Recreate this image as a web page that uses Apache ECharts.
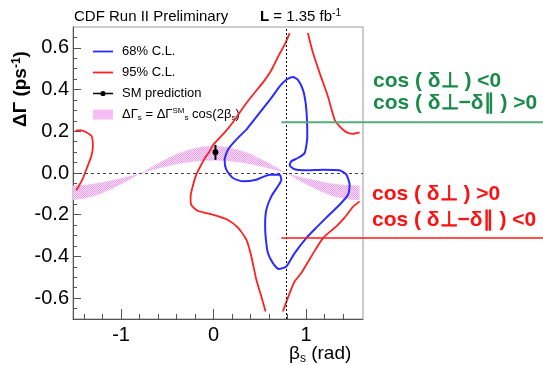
<!DOCTYPE html>
<html><head><meta charset="utf-8">
<script src="https://cdn.jsdelivr.net/npm/echarts@6/dist/echarts.min.js"></script>
<style>html,body{margin:0;padding:0;background:#fff}#c{width:543px;height:366px}</style>
</head><body><div id="c"></div>
<script>
const FONT = '"Liberation Sans", Arial, Helvetica, sans-serif';

// axis ranges and tick labels
const xRange = [-1.52, 1.615];
const yRange = [-0.7, 0.7];
const xMajorTicks = [-1, 0, 1];
const xMinorTicks = [-1.4, -1.2, -0.8, -0.6, -0.4, -0.2, 0.2, 0.4, 0.6, 0.8, 1.2, 1.4];
const yMajorTicks = [-0.6, -0.4, -0.2, 0, 0.2, 0.4, 0.6];
const yMinorTicks = [-0.65, -0.55, -0.5, -0.45, -0.35, -0.3, -0.25, -0.15, -0.1, -0.05,
                     0.05, 0.1, 0.15, 0.25, 0.3, 0.35, 0.45, 0.5, 0.55, 0.65];

// 68% C.L. contour (beta_s, DeltaGamma)
const blueContour = [
  [0.354,0.208],[0.497,0.288],[0.624,0.360],[0.714,0.415],[0.786,0.447],[0.857,0.460],
  [0.911,0.447],[0.965,0.400],[0.995,0.336],[1.009,0.256],[1.013,0.176],[0.984,0.096],
  [0.911,0.072],[0.840,0.056],[0.822,0.037],[0.876,0.018],[1.002,0.013],[1.182,0.016],
  [1.362,0.013],[1.435,-0.008],[1.470,-0.056],[1.452,-0.104],[1.362,-0.152],[1.218,-0.214],
  [1.110,-0.262],[1.002,-0.312],[0.876,-0.384],[0.786,-0.448],[0.706,-0.460],[0.641,-0.432],
  [0.587,-0.384],[0.562,-0.304],[0.557,-0.248],[0.570,-0.176],[0.624,-0.112],[0.695,-0.064],
  [0.732,-0.032],[0.714,-0.008],[0.605,-0.008],[0.462,-0.032],[0.317,-0.040],[0.209,-0.024],
  [0.137,0.016],[0.119,0.064],[0.155,0.112],[0.245,0.160],[0.354,0.208]
];

// 95% C.L. contour pieces
const redMain = [
  [0.822,0.671],[0.768,0.615],[0.703,0.563],[0.627,0.495],[0.541,0.438],[0.443,0.385],
  [0.357,0.337],[0.281,0.289],[0.205,0.241],[0.130,0.200],[0.046,0.160],[-0.011,0.131],
  [-0.043,0.104],[-0.092,0.073],[-0.133,0.040],[-0.187,-0.008],[-0.227,-0.066],[-0.249,-0.114],
  [-0.243,-0.152],[-0.173,-0.181],[-0.011,-0.200],[0.151,-0.224],[0.263,-0.262],[0.354,-0.320],
  [0.408,-0.400],[0.462,-0.512],[0.516,-0.592],[0.562,-0.664]
];
const redLowerRight = [
  [0.749,-0.664],[0.822,-0.576],[0.876,-0.520],[0.948,-0.480],[1.056,-0.400],[1.182,-0.312],
  [1.326,-0.256],[1.416,-0.214],[1.506,-0.162],[1.578,-0.136]
];
const redTopRight = [
  [1.019,0.671],[1.074,0.576],[1.146,0.480],[1.236,0.367],[1.308,0.256],[1.362,0.224],
  [1.435,0.196],[1.503,0.188],[1.578,0.195]
];
const redLeftArc = [
  [-1.492,0.204],[-1.430,0.204],[-1.322,0.179],[-1.305,0.128],[-1.322,0.080],
  [-1.370,0.024],[-1.419,-0.032],[-1.484,-0.083]
];

// SM prediction
const smBeta = [0.02];
const smDG = [0.099];
const smErr = [0.036];

// band DeltaGamma_s = DeltaGamma_s^SM cos(2 beta_s)
const bandBeta = [-1.52,-1.4,-1.3,-1.2,-1.1,-1.0,-0.9,-0.785,-0.7,-0.6,-0.5,-0.4,-0.3,-0.2,-0.1,0,
                  0.1,0.2,0.3,0.4,0.5,0.6,0.7,0.785,0.9,1.0,1.1,1.2,1.3,1.4,1.5,1.578];
const bandHi = [-0.129,-0.122,-0.111,-0.096,-0.077,-0.054,-0.030,0,0.022,0.047,0.070,0.091,0.107,0.120,0.127,0.130,
                0.127,0.120,0.107,0.091,0.070,0.047,0.022,0,-0.030,-0.054,-0.077,-0.096,-0.111,-0.122,-0.128,-0.130];
const bandLo = [-0.060,-0.057,-0.051,-0.044,-0.035,-0.025,-0.014,0,0.010,0.022,0.032,0.042,0.050,0.055,0.059,0.060,
                0.059,0.055,0.050,0.042,0.032,0.022,0.010,0,-0.014,-0.025,-0.035,-0.044,-0.051,-0.057,-0.059,-0.060];

// reference lines / annotations (data coordinates)
const refBeta = 0.785;
const annotStartBeta = 0.732;
const greenLineDG = 0.243;
const redLineDG = -0.312;

// hatch pattern for band
const pc = document.createElement('canvas');
pc.width = 2; pc.height = 2;
const pctx = pc.getContext('2d');
pctx.fillStyle = '#fbe2fb'; pctx.fillRect(0,0,2,2);
pctx.fillStyle = '#ef9cef'; pctx.fillRect(0,0,1,1); pctx.fillRect(1,1,1,1);
const bandPattern = { image: pc, repeat: 'repeat' };

const chart = echarts.init(document.getElementById('c'), null, {renderer:'canvas'});

const redStyle = {color:'#ff2020', width:1.8};
function redSeries(data){
  return {type:'line', name:'95% C.L.', data:data, symbol:'none', showSymbol:false,
          smooth:0.2, lineStyle:redStyle, itemStyle:{color:'#ff2020'}, z:4, animation:false};
}
const lineIcon = 'path://M0,0H20V1.8H0Z';
const smIcon = 'path://M0,2.2H20V3.6H0Z M12.6,2.9A2.6,2.6 0 1,1 7.4,2.9A2.6,2.6 0 1,1 12.6,2.9Z';

const option = {
  animation:false,
  grid:{left:73, right:180, top:27, bottom:47, show:true, borderColor:'#999', borderWidth:1},
  xAxis:[{
    type:'value', min:xRange[0], max:xRange[1],
    axisLine:{show:true, onZero:false, lineStyle:{color:'#555', width:1}},
    axisTick:{show:true, inside:true, length:5, customValues:xMinorTicks, lineStyle:{color:'#555'}},
    axisLabel:{show:true, customValues:xMajorTicks, margin:6, fontFamily:FONT, fontSize:20, color:'#000',
               formatter:v=>String(Math.round(v))},
    splitLine:{show:false}
  },{
    type:'value', min:xRange[0], max:xRange[1], position:'bottom',
    axisLine:{show:false, onZero:false},
    axisTick:{show:true, inside:true, length:10, customValues:xMajorTicks, lineStyle:{color:'#555'}},
    axisLabel:{show:false}, splitLine:{show:false}
  }],
  yAxis:[{
    type:'value', min:yRange[0], max:yRange[1],
    axisLine:{show:true, onZero:false, lineStyle:{color:'#555', width:1}},
    axisTick:{show:true, inside:true, length:8, customValues:yMajorTicks, lineStyle:{color:'#555'}},
    axisLabel:{show:true, customValues:yMajorTicks, margin:4, fontFamily:FONT, fontSize:20, color:'#000',
               formatter:v=>v.toFixed(1)},
    splitLine:{show:false}
  },{
    type:'value', min:yRange[0], max:yRange[1], position:'left',
    axisLine:{show:false, onZero:false},
    axisTick:{show:true, inside:true, length:4, customValues:yMinorTicks, lineStyle:{color:'#555'}},
    axisLabel:{show:false}, splitLine:{show:false}
  }],
  legend:{
    orient:'vertical', left:93, top:44, padding:0, itemWidth:20, itemHeight:10, itemGap:6,
    data:[{name:'68% C.L.', icon:lineIcon},{name:'95% C.L.', icon:lineIcon},{name:'SM prediction', icon:smIcon},
          {name:'band', icon:'rect', itemStyle:{color:bandPattern}}],
    textStyle:{fontFamily:FONT, fontSize:13, color:'#000', lineHeight:15, padding:[0,0,0,4],
      rich:{
        n:{fontFamily:FONT, fontSize:13, color:'#000', lineHeight:15},
        sub:{fontFamily:FONT, fontSize:8, color:'#000', lineHeight:15, padding:[7,0,0,0]},
        sup:{fontFamily:FONT, fontSize:8, color:'#000', lineHeight:15, padding:[0,0,7,0]}
      }},
    formatter:function(name){
      if(name==='band') return '{n|ΔΓ}{sub|s}{n| = ΔΓ}{sup|SM}{sub|s}{n| cos(2β}{sub|s}{n|)}';
      return name;
    }
  },
  series:[
    {type:'custom', name:'band', coordinateSystem:'cartesian2d', silent:true, z:1,
     itemStyle:{color:bandPattern},
     data: bandBeta.map((b,i)=>[b, bandHi[i], bandLo[i]]),
     encode:{x:0, y:[1,2]},
     renderItem:function(params, api){
       if(params.dataIndex!==0) return;
       const pts=[];
       for(let i=0;i<bandBeta.length;i++) pts.push(api.coord([bandBeta[i], bandHi[i]]));
       for(let i=bandBeta.length-1;i>=0;i--) pts.push(api.coord([bandBeta[i], bandLo[i]]));
       return {type:'polygon', shape:{points:pts}, style:{fill:bandPattern}};
     }},
    {type:'line', name:'68% C.L.', data:blueContour, symbol:'none', showSymbol:false, smooth:0.2,
     lineStyle:{color:'#2b2bff', width:2}, itemStyle:{color:'#2b2bff'}, z:5,
     markLine:{silent:true, symbol:['none','none'], label:{show:false}, animation:false,
       data:[{yAxis:0, lineStyle:{type:[3,3], color:'#444', width:1}},
             {xAxis:refBeta, lineStyle:{type:[2,2], color:'#000', width:1}}]}},
    redSeries(redMain), redSeries(redLowerRight), redSeries(redTopRight), redSeries(redLeftArc),
    {type:'custom', name:'smerr', silent:true, z:6,
     data: smBeta.map((b,i)=>[b, smDG[i]-smErr[i], smDG[i]+smErr[i]]),
     encode:{x:0, y:[1,2]},
     renderItem:function(params, api){
       const p1=api.coord([api.value(0), api.value(1)]);
       const p2=api.coord([api.value(0), api.value(2)]);
       return {type:'line', shape:{x1:p1[0], y1:p1[1], x2:p2[0], y2:p2[1]},
               style:{stroke:'#000', lineWidth:2}};
     }},
    {type:'line', name:'SM prediction', data: smBeta.map((b,i)=>[b, smDG[i]]),
     symbol:'circle', symbolSize:6, showSymbol:true, z:7,
     lineStyle:{color:'#000', width:1.5}, itemStyle:{color:'#000'}}
  ]
};
chart.setOption(option);

const gS = chart.convertToPixel({gridIndex:0}, [annotStartBeta, greenLineDG]);
const rS = chart.convertToPixel({gridIndex:0}, [annotStartBeta, redLineDG]);
const W = 543;
const green = '#1a8a48', red = '#ff1010';
const annFont = 'bold 21px ' + FONT;
chart.setOption({graphic:[
  {type:'text', x:74, y:17, style:{text:'CDF Run II Preliminary', font:'15px '+FONT, fill:'#000', verticalAlign:'middle'}},
  {type:'text', x:260, y:17, style:{text:'{b|L}{n| = 1.35 fb}{sup|-1}', verticalAlign:'middle', fill:'#000',
     rich:{b:{font:'bold 15px '+FONT, lineHeight:18}, n:{font:'15px '+FONT, lineHeight:18},
           sup:{font:'10px '+FONT, lineHeight:18, padding:[0,0,8,0]}}}},
  {type:'text', x:21, y:89, rotation:Math.PI/2,
   style:{text:'{b|ΔΓ (ps}{sup|-1}{b|)}', align:'center', verticalAlign:'middle', fill:'#000',
     rich:{b:{font:'bold 19px '+FONT, lineHeight:22}, sup:{font:'bold 12px '+FONT, lineHeight:22, padding:[0,0,9,0]}}}},
  {type:'text', x:289, y:354,
   style:{text:'{n|β}{sub|s}{n| (rad)}', verticalAlign:'middle', fill:'#000',
     rich:{n:{font:'19px '+FONT, lineHeight:22}, sub:{font:'12px '+FONT, lineHeight:22, padding:[9,0,0,0]}}}},
  {type:'line', shape:{x1:gS[0], y1:gS[1], x2:W, y2:gS[1]}, style:{stroke:'#5aab7b', lineWidth:2}, z:10},
  {type:'line', shape:{x1:rS[0], y1:rS[1], x2:W, y2:rS[1]}, style:{stroke:'#ff1a1a', lineWidth:1.5}, z:10},
  {type:'text', x:373, y:81, style:{text:'cos ( δ⊥ ) <0', font:annFont, fill:green, verticalAlign:'middle'}},
  {type:'text', x:373, y:103, style:{text:'cos ( δ⊥−δ∥ ) >0', font:annFont, fill:green, verticalAlign:'middle'}},
  {type:'text', x:372, y:194, style:{text:'cos ( δ⊥ ) >0', font:annFont, fill:red, verticalAlign:'middle'}},
  {type:'text', x:372, y:220, style:{text:'cos ( δ⊥−δ∥ ) <0', font:annFont, fill:red, verticalAlign:'middle'}}
]});
</script></body></html>
